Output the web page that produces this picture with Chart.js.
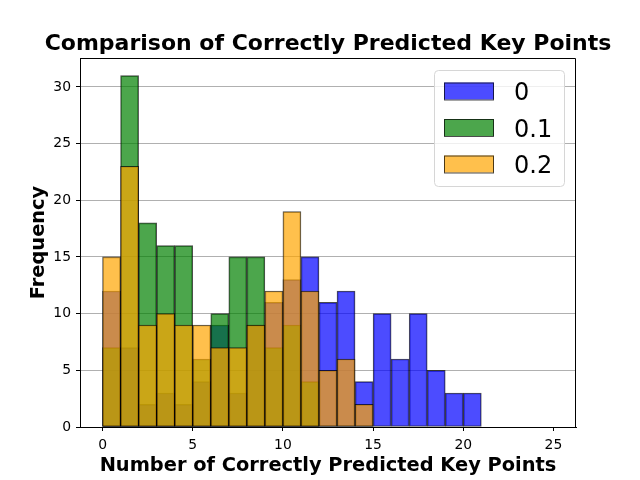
<!DOCTYPE html>
<html>
<head>
<meta charset="utf-8">
<script src="https://cdn.jsdelivr.net/npm/chart.js@4"></script>
<style>
  html, body { margin: 0; padding: 0; background: #fff; }
  #wrap { width: 640px; height: 480px; }
</style>
</head>
<body>
<div id="wrap"><canvas id="histChart" width="640" height="480"></canvas></div>
<script>
// histogram bins, width 1, left edges
const binStarts = [0, 1, 2, 3, 4, 5, 6, 7, 8, 9, 10, 11, 12, 13, 14, 15, 16, 17, 18, 19, 20, 21, 22, 23, 24];
const counts0  = [12, 7, 2, 3, 2, 4, 9, 3, 9, 11, 13, 15, 11, 12, 4, 10, 6, 10, 5, 3, 3, 0, 0, 0, 0];
const counts01 = [7, 31, 18, 16, 16, 6, 10, 15, 15, 7, 9, 4, 0, 0, 0, 0, 0, 0, 0, 0, 0, 0, 0, 0, 0];
const counts02 = [15, 23, 9, 10, 9, 9, 7, 7, 9, 12, 19, 12, 5, 6, 2, 0, 0, 0, 0, 0, 0, 0, 0, 0, 0];
const seriesLabels = ['0', '0.1', '0.2'];
const xTicks = [0, 5, 10, 15, 20, 25];
const yTicks = [0, 5, 10, 15, 20, 25, 30];
const chartTitle = 'Comparison of Correctly Predicted Key Points';

const FONT = 'DejaVu Sans';
const edge = 'rgba(0,0,0,0.7)';

function toPoints(counts) {
  return binStarts.map((b, i) => ({ x: b + 0.5, y: counts[i] }));
}

function makeSet(label, counts, color, order) {
  return {
    label: label,
    data: toPoints(counts),
    backgroundColor: color,
    borderColor: edge,
    borderWidth: 1,
    borderSkipped: false,
    barPercentage: 1,
    categoryPercentage: 1,
    grouped: false,
    order: order
  };
}

// title centred over the axes, top/right frame, legend box in upper right
const framePlugin = {
  id: 'frame',
  afterDraw(chart) {
    const { ctx, chartArea: a } = chart;
    ctx.save();
    ctx.strokeStyle = '#000';
    ctx.lineWidth = 1;
    ctx.beginPath();
    ctx.moveTo(a.left, a.top + 0.5);
    ctx.lineTo(a.right - 0.5, a.top + 0.5);
    ctx.lineTo(a.right - 0.5, a.bottom);
    ctx.stroke();

    ctx.fillStyle = '#000';
    ctx.font = 'bold 22px "' + FONT + '"';
    ctx.textAlign = 'center';
    ctx.textBaseline = 'alphabetic';
    ctx.fillText(chartTitle, (a.left + a.right) / 2, 50);

    // legend
    const w = 130, h = 116;
    const x0 = a.right - 12 - w, y0 = a.top + 12;
    ctx.beginPath();
    ctx.roundRect(x0 + 0.5, y0 + 0.5, w, h, 4);
    ctx.fillStyle = 'rgba(255,255,255,0.8)';
    ctx.fill();
    ctx.strokeStyle = '#d6d6d6';
    ctx.stroke();

    ctx.font = '24px "' + FONT + '"';
    ctx.textAlign = 'left';
    chart.data.datasets.forEach((ds, i) => {
      const cy = y0 + 21 + i * 36.5;
      ctx.fillStyle = ds.backgroundColor;
      ctx.fillRect(x0 + 10, cy - 8.5, 50, 17);
      ctx.strokeStyle = edge;
      ctx.strokeRect(x0 + 10.5, cy - 8, 49, 17);
      ctx.fillStyle = '#000';
      ctx.fillText(ds.label, x0 + 80, cy + 9);
    });
    ctx.restore();
  }
};

new Chart(document.getElementById('histChart'), {
  type: 'bar',
  data: {
    datasets: [
      makeSet(seriesLabels[0], counts0, 'rgba(0,0,255,0.7)', 3),
      makeSet(seriesLabels[1], counts01, 'rgba(0,128,0,0.7)', 2),
      makeSet(seriesLabels[2], counts02, 'rgba(255,165,0,0.7)', 1)
    ]
  },
  options: {
    responsive: false,
    animation: false,
    layout: { padding: { left: 0, right: 64, top: 58, bottom: 0 } },
    plugins: {
      legend: { display: false },
      tooltip: { enabled: false },
      title: { display: false }
    },
    scales: {
      x: {
        type: 'linear',
        min: -1.25,
        max: 26.25,
        offset: false,
        z: 1,
        afterFit(scale) { scale.height = 53; },
        afterBuildTicks(scale) { scale.ticks = xTicks.map(v => ({ value: v })); },
        ticks: {
          color: '#000',
          font: { family: FONT, size: 13.9 },
          padding: 6,
          maxRotation: 0
        },
        grid: {
          offset: false,
          drawOnChartArea: false,
          drawTicks: true,
          tickLength: 4,
          tickColor: '#000'
        },
        border: { display: true, color: '#000', width: 1 },
        title: {
          display: true,
          text: 'Number of Correctly Predicted Key Points',
          color: '#000',
          font: { family: FONT, size: 19.4, weight: 'bold', lineHeight: 1.2 },
          padding: { top: 0, bottom: 2.5 }
        }
      },
      y: {
        type: 'linear',
        min: 0,
        max: 32.55,
        z: 1,
        afterFit(scale) { scale.width = 80; },
        afterBuildTicks(scale) { scale.ticks = yTicks.map(v => ({ value: v })); },
        ticks: {
          color: '#000',
          font: { family: FONT, size: 13.9 },
          padding: 5
        },
        grid: {
          color: '#b0b0b0',
          lineWidth: 1,
          drawTicks: true,
          tickLength: 4,
          tickColor: '#000'
        },
        border: { display: true, color: '#000', width: 1 },
        title: {
          display: true,
          text: 'Frequency',
          color: '#000',
          font: { family: FONT, size: 19.4, weight: 'bold', lineHeight: 1.2 },
          padding: { top: 27, bottom: 0 }
        }
      }
    }
  },
  plugins: [framePlugin]
});
</script>
</body>
</html>
